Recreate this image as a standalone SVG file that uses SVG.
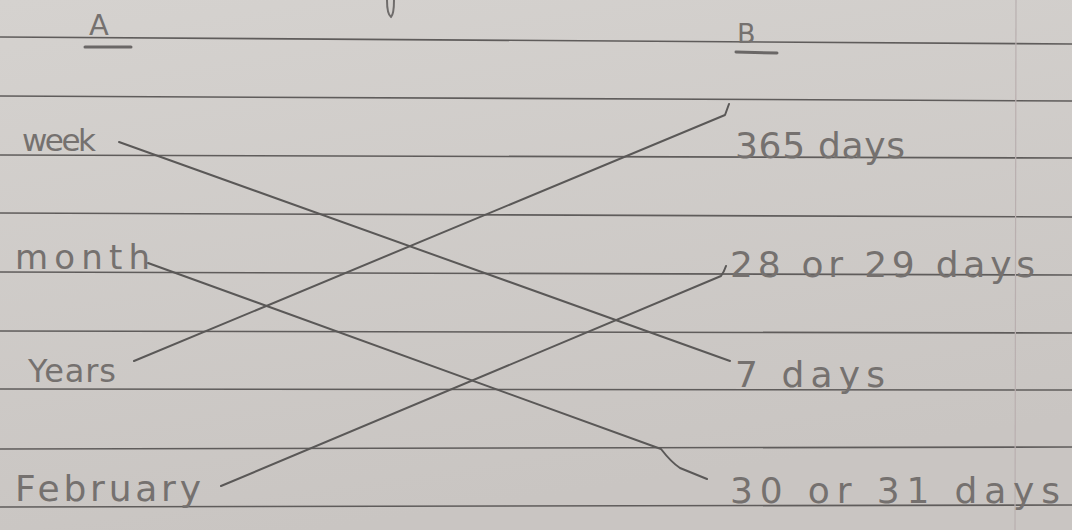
<svg xmlns="http://www.w3.org/2000/svg" width="1072" height="530" viewBox="0 0 1072 530">
  <defs>
    <linearGradient id="paper" x1="0" y1="0" x2="0.3" y2="1">
      <stop offset="0" stop-color="#d5d2cf"/>
      <stop offset="1" stop-color="#c9c5c2"/>
    </linearGradient>
    <style>
      .rule { stroke: #5f5c5b; stroke-width: 1.6; fill: none; }
      .margin { stroke: #b9afaf; stroke-width: 1.2; fill: none; }
      .hand { font-family: "DejaVu Sans", "Liberation Sans", sans-serif; fill: #75716f; }
      .conn { stroke: #5a5857; stroke-width: 2; fill: none; stroke-linecap: round; stroke-linejoin: round; }
      .ul { stroke: #6a6766; stroke-width: 3; stroke-linecap: round; }
    </style>
  </defs>

  <rect x="0" y="0" width="1072" height="530" fill="url(#paper)"/>

  <g id="paper-rules">
    <line class="rule" x1="0" y1="37" x2="1072" y2="44"/>
    <line class="rule" x1="0" y1="96" x2="1072" y2="101"/>
    <line class="rule" x1="0" y1="155" x2="1072" y2="158"/>
    <line class="rule" x1="0" y1="213" x2="1072" y2="217"/>
    <line class="rule" x1="0" y1="272" x2="1072" y2="275"/>
    <line class="rule" x1="0" y1="331" x2="1072" y2="333"/>
    <line class="rule" x1="0" y1="389" x2="1072" y2="390"/>
    <line class="rule" x1="0" y1="449" x2="1072" y2="447"/>
    <line class="rule" x1="0" y1="507" x2="1072" y2="505"/>
    <line class="margin" x1="1016" y1="0" x2="1015" y2="530"/>
    <path d="M387,0 Q387,14 391,17 Q394,14 394,0" stroke="#6f6c6b" stroke-width="2" fill="none"/>
  </g>

  <g id="connectors">
    <path class="conn" d="M119,142 L730,361"/>
    <path class="conn" d="M148,263 L661,449 Q671,462 680,468 L707,479"/>
    <path class="conn" d="M134,361 L725,115 L729,104"/>
    <path class="conn" d="M221,486 L721,276 Q724,272 726,266"/>
  </g>

  <g id="header-A">
    <text class="hand" x="89" y="35" font-size="29">A</text>
    <line class="ul" x1="85" y1="47" x2="131" y2="47"/>
  </g>
  <g id="header-B">
    <text class="hand" x="737" y="43" font-size="27">B</text>
    <line class="ul" x1="736" y1="52" x2="777" y2="53"/>
  </g>

  <g id="node-week"><text class="hand" x="22" y="151" font-size="31" textLength="74">week</text></g>
  <g id="node-month"><text class="hand" x="15" y="269" font-size="34" textLength="135">month</text></g>
  <g id="node-years"><text class="hand" x="28" y="382" font-size="32" textLength="88">Years</text></g>
  <g id="node-february"><text class="hand" x="15" y="501" font-size="36" textLength="186">February</text></g>

  <g id="node-365"><text class="hand" x="735" y="158" font-size="36" textLength="170">365 days</text></g>
  <g id="node-28"><text class="hand" x="730" y="277" font-size="36" textLength="305">28 or 29 days</text></g>
  <g id="node-7"><text class="hand" x="735" y="387" font-size="36" textLength="150">7 days</text></g>
  <g id="node-30"><text class="hand" x="730" y="503" font-size="36" textLength="330">30 or 31 days</text></g>
</svg>
